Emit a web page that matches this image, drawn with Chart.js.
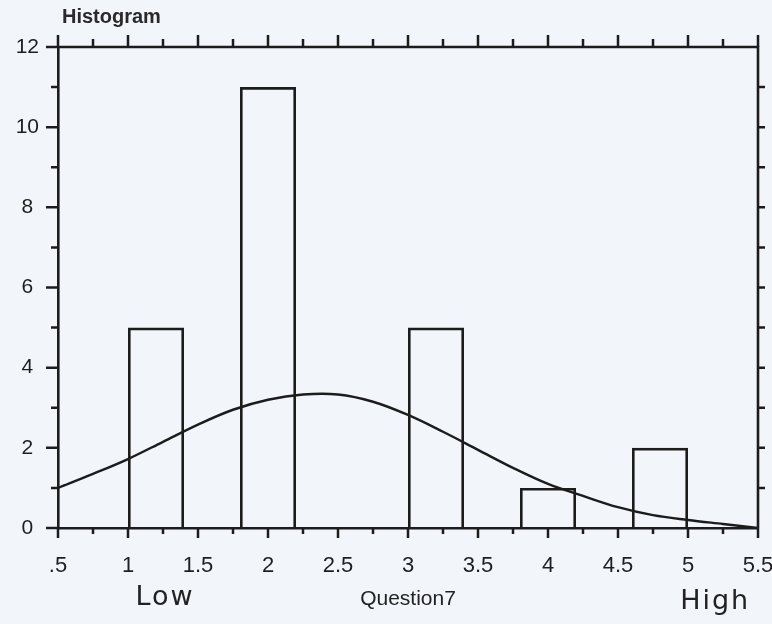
<!DOCTYPE html>
<html>
<head>
<meta charset="utf-8">
<script src="https://cdn.jsdelivr.net/npm/chart.js@4/dist/chart.umd.min.js"></script>
<style>
  html, body { margin: 0; padding: 0; background: #f2f6fa; }
  #wrap { width: 772px; height: 624px; }
</style>
</head>
<body>
<div id="wrap"><canvas id="hist" width="772" height="624"></canvas></div>
<script>
// Question7 responses: bin centres and counts
const binCentres = [1.2, 2.0, 3.2, 4.0, 4.8];
const binCounts = [5, 11, 5, 1, 2];

// fitted normal curve, sampled along the x axis
const curveX = [0.5, 0.75, 1.0, 1.25, 1.5, 1.75, 2.0, 2.25, 2.5, 2.75, 3.0, 3.25, 3.5, 3.75, 4.0, 4.25, 4.5, 4.75, 5.0, 5.25, 5.5];
const curveY = [1.0, 1.35, 1.72, 2.15, 2.58, 2.95, 3.2, 3.33, 3.33, 3.15, 2.82, 2.4, 1.95, 1.5, 1.1, 0.8, 0.52, 0.32, 0.2, 0.1, 0.0];

// axis tick labels
const xTickValues = [0.5, 1, 1.5, 2, 2.5, 3, 3.5, 4, 4.5, 5, 5.5];
const xTickLabels = ['.5', '1', '1.5', '2', '2.5', '3', '3.5', '4', '4.5', '5', '5.5'];
const yTickValues = [0, 2, 4, 6, 8, 10, 12];
const yTickLabels = ['0', '2', '4', '6', '8', '10', '12'];

const INK = '#1c1c1c';
const PAPER = '#f2f6fa';
const SANS = '"Liberation Sans", Arial, sans-serif';

// paper background, frame edges, tick marks and the hand-written end labels
const framePlugin = {
  id: 'frame',
  beforeDraw(chart) {
    const { ctx } = chart;
    ctx.save();
    ctx.fillStyle = PAPER;
    ctx.fillRect(0, 0, chart.width, chart.height);
    ctx.restore();
  },
  afterDraw(chart) {
    const { ctx, chartArea: a, scales: { x, y } } = chart;
    ctx.save();
    ctx.strokeStyle = INK;
    ctx.lineCap = 'butt';

    // top and right edges of the plot frame
    ctx.lineWidth = 2.6;
    ctx.beginPath();
    ctx.moveTo(a.left - 1, a.top);
    ctx.lineTo(a.right, a.top);
    ctx.lineTo(a.right, a.bottom);
    ctx.stroke();

    // x ticks every quarter, longer on the halves
    ctx.lineWidth = 2.5;
    for (let v = 0.5; v <= 5.5001; v += 0.25) {
      const px = x.getPixelForValue(v);
      const major = Math.abs(v * 2 - Math.round(v * 2)) < 1e-6;
      ctx.beginPath();
      ctx.moveTo(px, a.bottom);
      ctx.lineTo(px, a.bottom + (major ? 10 : 6));
      ctx.moveTo(px, a.top);
      ctx.lineTo(px, a.top - (major ? 12 : 8));
      ctx.stroke();
    }
    // y ticks every unit, longer on the labelled ones
    for (let v = 0; v <= 12; v++) {
      const py = y.getPixelForValue(v);
      const major = v % 2 === 0;
      ctx.beginPath();
      ctx.moveTo(a.left, py);
      ctx.lineTo(a.left - (major ? 12 : 7), py);
      if (v > 0 && v < 12) {
        ctx.moveTo(a.right, py);
        ctx.lineTo(a.right + 7, py);
      }
      ctx.stroke();
    }

    // chart heading
    ctx.fillStyle = '#2a2a2a';
    ctx.font = 'bold 20px ' + SANS;
    ctx.textAlign = 'left';
    ctx.textBaseline = 'alphabetic';
    ctx.fillText('Histogram', a.left + 4, 23);

    // scale end annotations
    ctx.fillStyle = '#222';
    ctx.font = '27px "DejaVu Sans", sans-serif';
    ctx.letterSpacing = '2px';
    ctx.textAlign = 'center';
    ctx.textBaseline = 'middle';
    ctx.fillText('Low', x.getPixelForValue(1.25) + 2, 598);
    ctx.fillText('High', x.getPixelForValue(5.18) + 2, 602);
    ctx.restore();
  }
};

new Chart(document.getElementById('hist'), {
  type: 'bar',
  data: {
    datasets: [
      {
        type: 'line',
        label: 'Normal',
        data: curveX.map((v, i) => ({ x: v, y: curveY[i] })),
        borderColor: INK,
        borderWidth: 2.4,
        pointRadius: 0,
        tension: 0.35,
        fill: false,
        order: 0
      },
      {
        type: 'bar',
        label: 'Question7',
        data: binCentres.map((v, i) => ({ x: v, y: binCounts[i] })),
        backgroundColor: 'rgba(0,0,0,0)',
        borderColor: INK,
        borderWidth: 2.6,
        categoryPercentage: 0.8,
        barPercentage: 1.0,
        order: 1
      }
    ]
  },
  options: {
    responsive: false,
    animation: false,
    events: [],
    layout: { padding: { top: 47, right: 14, left: 0, bottom: 0 } },
    plugins: {
      legend: { display: false },
      tooltip: { enabled: false },
      title: { display: false }
    },
    scales: {
      x: {
        type: 'linear',
        min: 0.5,
        max: 5.5,
        offset: false,
        afterBuildTicks: (s) => { s.ticks = xTickValues.map(v => ({ value: v })); },
        afterFit: (s) => { s.height = 96; s.paddingLeft = 0; s.paddingRight = 0; },
        ticks: {
          callback: (v) => xTickLabels[xTickValues.indexOf(v)],
          font: { family: SANS, size: 22 },
          color: '#1e1e1e',
          padding: 25,
          maxRotation: 0,
          autoSkip: false
        },
        grid: { display: false, drawTicks: false, offset: false },
        border: { display: true, color: INK, width: 2.6 },
        title: {
          display: true,
          text: 'Question7',
          font: { family: SANS, size: 21 },
          color: '#222',
          padding: { top: 0, bottom: 12 }
        }
      },
      y: {
        type: 'linear',
        min: 0,
        max: 12,
        afterBuildTicks: (s) => { s.ticks = yTickValues.map(v => ({ value: v })); },
        afterFit: (s) => { s.width = 58; },
        ticks: {
          callback: (v) => yTickLabels[yTickValues.indexOf(v)],
          font: { family: SANS, size: 21 },
          color: '#1e1e1e',
          padding: 19,
          crossAlign: 'center'
        },
        grid: { display: false, drawTicks: false },
        border: { display: true, color: INK, width: 2.6 }
      }
    }
  },
  plugins: [framePlugin]
});
</script>
</body>
</html>
